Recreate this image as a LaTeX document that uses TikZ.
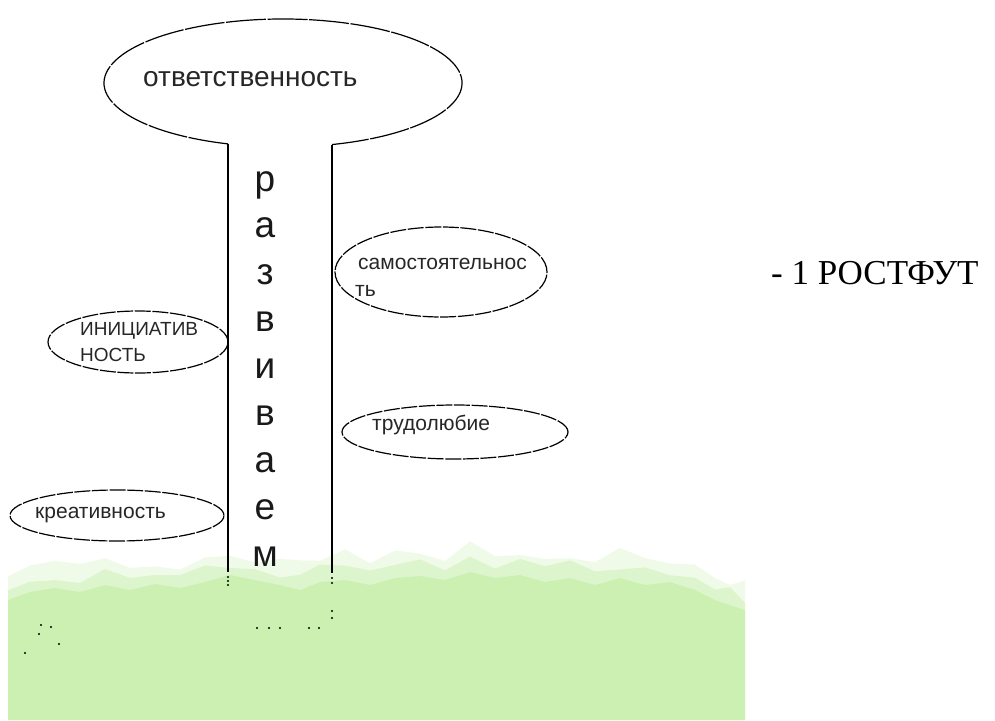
\documentclass[tikz,border=0pt]{standalone}
\usepackage{fontspec}
\setmainfont{Liberation Sans}
\newfontfamily\serifrm{Liberation Serif}
\usetikzlibrary{shapes.geometric}
\definecolor{grassgreen}{RGB}{203,240,178}
\begin{document}
\begin{tikzpicture}[x=1pt,y=-1pt,
  oval/.style={draw=black, line width=1.2pt, dash pattern=on 16pt off 1.6pt, ellipse, inner sep=0pt},
  lbl/.style={anchor=base west, inner sep=0pt, font=\fontsize{21}{21}\selectfont, text=black!85},
  caplbl/.style={anchor=base west, inner sep=0pt, font=\fontsize{19}{19}\selectfont, text=black!85},
  vl/.style={anchor=base, inner sep=0pt, font=\fontsize{37}{37}\selectfont, text=black!90},
  stemline/.style={line width=1.6pt},
  speck/.style={fill=black, circle, inner sep=0pt, minimum size=2.2pt},
  grass/.style={fill=grassgreen}]
\useasboundingbox (0,0) rectangle (995,720);
\pgfmathsetseed{11}
% grass
\def\grasstop{8/600,30/592,55/588,80/592,105/585,130/590,155/584,180/588,205/582,230/575,255/580,280/585,300/590,320/582,345/580,370/585,395/578,420/576,445/580,470/572,495/578,520/575,545/582,570/578,595/585,620/578,645/585,670/582,695/590,715/600,730/605,745/610}
\fill[grass, opacity=0.3] (8,720) \foreach \x/\y in \grasstop { -- (\x,{\y-24+8*rand}) } -- (745,720) -- cycle;
\fill[grass, opacity=0.5] (8,720) \foreach \x/\y in \grasstop { -- (\x,{\y-12+6*rand}) } -- (745,720) -- cycle;
\fill[grass] (8,720) \foreach \x/\y in \grasstop { -- (\x,\y) } -- (745,720) -- cycle;
% big ellipse with stem
\node[inner sep=0pt] (otv) at (283,83) {};
\coordinate (stTL) at (228,143.9);
\coordinate (stTR) at (332,144.7);
\coordinate (stBL) at (228,572);
\coordinate (stBR) at (332,573);
\draw[line width=1.2pt, dash pattern=on 40pt off 1.6pt] (stTL) arc[start angle=107.9, end angle=434.1, x radius=179, y radius=64];
\draw[stemline] (stTL) -- (stBL);
\draw[stemline] (stTR) -- (stBR);
\node[anchor=base west, inner sep=0pt, font=\fontsize{28}{28}\selectfont, text=black!85] (otvT) at (143,86) {ответственность};
% vertical word
\foreach \c [count=\i] in {р,а,з,в,и,в,а,е,м} {
  \node[vl] (v\i) at (265,{191+46.9*(\i-1)}) {\c};
}
% small ellipses
\node[oval, minimum width=212, minimum height=90] (samE) at (441,272) {};
\node[lbl] (samT1) at (358,269) {самостоятельнос};
\node[lbl] (samT2) at (355,296) {ть};
\node[oval, minimum width=180, minimum height=62] (iniE) at (138,342) {};
\node[caplbl] (iniT1) at (80,335) {ИНИЦИАТИВ};
\node[caplbl] (iniT2) at (80,361) {НОСТЬ};
\node[oval, minimum width=226, minimum height=54] (trdE) at (455,432) {};
\node[lbl] (trdT) at (372,430) {трудолюбие};
\node[oval, minimum width=214, minimum height=51] (krE) at (117,515.5) {};
\node[lbl] (krT) at (35,518) {креативность};
% caption
\node[anchor=base west, inner sep=0pt, font=\serifrm\fontsize{35}{35}\selectfont] (cap) at (771,284) {- 1 РОСТФУТ};
% specks
\foreach \px/\py [count=\k] in {228/577,228/581,228/585,332/578,332/583,332/611,332/618,257/628,269/628,280/628,309/628,319/628,41/625,51/627,39/634,59/644,25/653} {
  \node[speck] (d\k) at (\px,\py) {};
}
\end{tikzpicture}
\end{document}
